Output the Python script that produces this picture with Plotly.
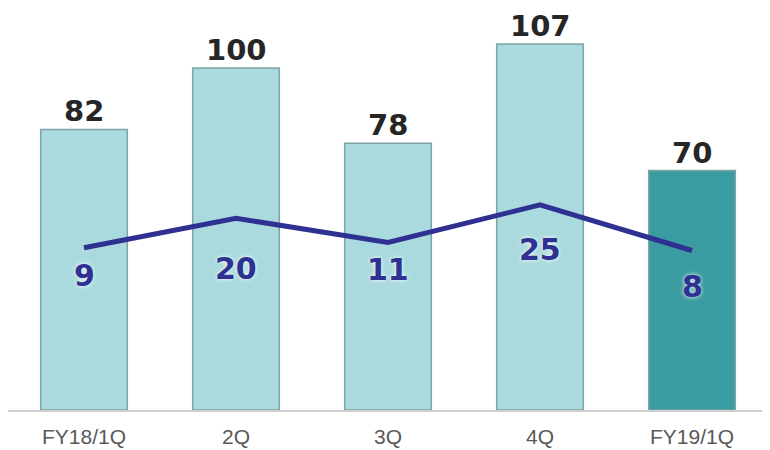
import plotly.graph_objects as go

categories = ["FY18/1Q", "2Q", "3Q", "4Q", "FY19/1Q"]
bar_values = [82, 100, 78, 107, 70]
line_values = [9, 20, 11, 25, 8]
bar_colors = ["#aadadd", "#aadadd", "#aadadd", "#aadadd", "#3a9ca0"]
line_label_shift = [-28, -50, -27, -45, -36]

fig = go.Figure()
fig.add_trace(go.Bar(
    x=categories, y=bar_values,
    marker=dict(color=bar_colors, line=dict(color="#7fa3a5", width=1.5)),
    width=0.57, yaxis="y", hoverinfo="skip",
))
fig.add_trace(go.Scatter(
    x=categories, y=line_values, mode="lines",
    line=dict(color="#2e3192", width=5), yaxis="y2", hoverinfo="skip",
))

annotations = []
for c, v in zip(categories, bar_values):
    annotations.append(dict(
        x=c, y=v, xref="x", yref="y", text=f"<b>{v}</b>", showarrow=False,
        yanchor="bottom", yshift=0, borderpad=0,
        font=dict(family="DejaVu Sans", size=29, color="#262626"),
    ))
for c, v, s in zip(categories, line_values, line_label_shift):
    annotations.append(dict(
        x=c, y=v, xref="x", yref="y2", text=f"<b>{v}</b>", showarrow=False,
        yanchor="middle", yshift=s,
        font=dict(family="DejaVu Sans", size=30, color="#2e3192",
                  shadow="0px 0px 4px white"),
    ))

fig.update_layout(
    width=770, height=450,
    margin=dict(l=0, r=10, t=12, b=48, autoexpand=False),
    paper_bgcolor="white", plot_bgcolor="white",
    showlegend=False, bargap=0.43,
    xaxis=dict(showline=True, linecolor="#d0d0d0", linewidth=2,
               showgrid=False, zeroline=False, ticks="", ticklabelstandoff=7,
               tickfont=dict(family="Liberation Sans", size=21, color="#595959")),
    yaxis=dict(range=[0, 114], visible=False, showgrid=False, zeroline=False),
    yaxis2=dict(range=[-51.3, 93.7], overlaying="y", visible=False,
                showgrid=False, zeroline=False),
    annotations=annotations,
)

fig.write_html("out.html")
